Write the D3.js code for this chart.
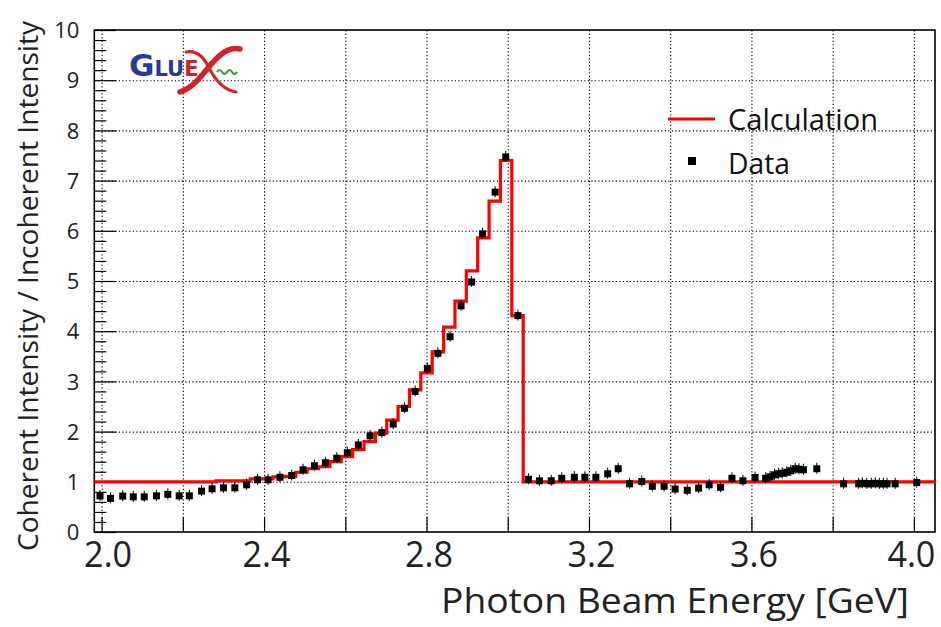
<!DOCTYPE html>
<html>
<head>
<meta charset="utf-8">
<script src="https://cdn.jsdelivr.net/npm/d3@7"></script>
<style>
  body { margin: 0; background: #fff; }
  svg { display: block; font-family: "Open Sans", "DejaVu Sans", sans-serif; }
</style>
</head>
<body>
<svg id="chart" width="941" height="627"></svg>
<script>
// ---------------- DATA ----------------
// Calculation histogram: bin edges (GeV) and ratio values per bin
const calcEdges = [1.982, 2.282, 2.310, 2.338, 2.366, 2.394, 2.422, 2.450, 2.478, 2.506,
  2.534, 2.562, 2.590, 2.618, 2.646, 2.674, 2.702, 2.730, 2.758, 2.786, 2.814, 2.842,
  2.870, 2.898, 2.926, 2.954, 2.982, 3.010, 3.038, 4.052];
const calcValues = [1.00, 1.02, 1.02, 1.02, 1.06, 1.06, 1.10, 1.11, 1.19, 1.26,
  1.30, 1.40, 1.50, 1.64, 1.80, 1.97, 2.23, 2.50, 2.83, 3.17, 3.59,
  4.08, 4.60, 5.20, 5.86, 6.59, 7.40, 4.31, 1.00];

// Measured data points
const dataEnergy = [1.996, 2.022, 2.052, 2.078, 2.105, 2.135, 2.163, 2.191, 2.216, 2.246,
  2.272, 2.300, 2.328, 2.357, 2.384, 2.410, 2.439, 2.468, 2.496, 2.524,
  2.551, 2.579, 2.605, 2.632, 2.661, 2.690, 2.718, 2.746, 2.772, 2.802,
  2.828, 2.858, 2.885, 2.911, 2.938, 2.969, 2.995, 3.025, 3.051, 3.078,
  3.107, 3.133, 3.164, 3.190, 3.217, 3.246, 3.272, 3.300, 3.330, 3.356,
  3.385, 3.412, 3.442, 3.470, 3.496, 3.524, 3.552, 3.579, 3.609, 3.635,
  3.646, 3.657, 3.667, 3.676, 3.687, 3.697, 3.708, 3.717, 3.728, 3.761,
  3.827, 3.864, 3.873, 3.884, 3.895, 3.905, 3.915, 3.925, 3.934, 3.954, 4.007];
const dataRatio = [0.72, 0.67, 0.715, 0.70, 0.70, 0.72, 0.75, 0.72, 0.72, 0.815,
  0.86, 0.88, 0.88, 0.94, 1.04, 1.04, 1.09, 1.125, 1.24, 1.32,
  1.38, 1.47, 1.58, 1.735, 1.915, 1.98, 2.15, 2.465, 2.80, 3.26,
  3.56, 3.89, 4.505, 4.98, 5.94, 6.77, 7.47, 4.31, 1.05, 1.02,
  1.02, 1.07, 1.09, 1.09, 1.09, 1.16, 1.26, 0.96, 1.006, 0.91,
  0.91, 0.855, 0.83, 0.875, 0.94, 0.89, 1.07, 1.02, 1.085, 1.07,
  1.10, 1.14, 1.16, 1.17, 1.19, 1.22, 1.26, 1.25, 1.24, 1.26,
  0.96, 0.96, 0.97, 0.96, 0.96, 0.97, 0.96, 0.96, 0.96, 0.96, 0.985];

// Axis ticks and labels
const xTickValues = [2.0, 2.2, 2.4, 2.6, 2.8, 3.0, 3.2, 3.4, 3.6, 3.8, 4.0];
const xLabelValues = [2.0, 2.4, 2.8, 3.2, 3.6, 4.0];
const xLabelTexts = ["2.0", "2.4", "2.8", "3.2", "3.6", "4.0"];
const yMajorTicks = [0, 1, 2, 3, 4, 5, 6, 7, 8, 9, 10];
const yMinorTicks = [0.2, 0.4, 0.6, 0.8, 1.2, 1.4, 1.6, 1.8, 2.2, 2.4, 2.6, 2.8,
  3.2, 3.4, 3.6, 3.8, 4.2, 4.4, 4.6, 4.8, 5.2, 5.4, 5.6, 5.8, 6.2, 6.4, 6.6, 6.8,
  7.2, 7.4, 7.6, 7.8, 8.2, 8.4, 8.6, 8.8, 9.2, 9.4, 9.6, 9.8];
const yGridValues = [1, 2, 3, 4, 5, 6, 7, 8, 9];

const xTitle = "Photon Beam Energy [GeV]";
const yTitle = "Coherent Intensity / Incoherent Intensity";
const legendLabels = ["Calculation", "Data"];

// ---------------- DRAW ----------------
const svg = d3.select("#chart");
const L = 94.3, R = 935, T = 30, B = 532;
const x = d3.scaleLinear().domain([1.982, 4.052]).range([L, R]);
const y = d3.scaleLinear().domain([0, 10]).range([B, T]);

// grid
const grid = svg.append("g").attr("class", "grid");
grid.append("g")
  .attr("transform", `translate(0,${B})`)
  .call(d3.axisBottom(x).tickValues(xTickValues).tickSize(-(B - T)).tickFormat(""))
  .call(g => g.select(".domain").remove())
  .selectAll("line").attr("stroke", "#000").attr("stroke-width", 1.1).attr("stroke-dasharray", "1.2,2.3");
grid.append("g")
  .attr("transform", `translate(${L},0)`)
  .call(d3.axisLeft(y).tickValues(yGridValues).tickSize(-(R - L)).tickFormat(""))
  .call(g => g.select(".domain").remove())
  .selectAll("line").attr("stroke", "#000").attr("stroke-width", 1.1).attr("stroke-dasharray", "1.2,2.3");

// x ticks (inward)
svg.append("g")
  .attr("transform", `translate(0,${B})`)
  .call(d3.axisBottom(x).tickValues(xTickValues).tickSize(-15).tickFormat(""))
  .call(g => g.select(".domain").remove())
  .selectAll("line").attr("stroke", "#000").attr("stroke-width", 1.2);

// x labels
const xl = svg.append("g")
  .attr("transform", `translate(0,${B})`)
  .call(d3.axisBottom(x).tickValues(xLabelValues).tickSize(0).tickPadding(0)
    .tickFormat((d, i) => xLabelTexts[i]));
xl.select(".domain").remove();
xl.selectAll("text")
  .attr("y", 35).attr("dy", 0)
  .attr("dx", (d, i) => i === 0 ? 6 : (i === xLabelValues.length - 1 ? -3 : 2))
  .attr("font-family", "Open Sans, sans-serif")
  .attr("font-size", 37).attr("fill", "#222")
  .attr("textLength", 48).attr("lengthAdjust", "spacingAndGlyphs");

// y minor ticks
svg.append("g")
  .attr("transform", `translate(${L},0)`)
  .call(d3.axisLeft(y).tickValues(yMinorTicks).tickSize(-12).tickFormat(""))
  .call(g => g.select(".domain").remove())
  .selectAll("line").attr("stroke", "#000").attr("stroke-width", 1.2);

// y major ticks + labels
const yl = svg.append("g")
  .attr("transform", `translate(${L},0)`)
  .call(d3.axisLeft(y).tickValues(yMajorTicks).tickSize(-22).tickPadding(15).tickFormat(d3.format("d")));
yl.select(".domain").remove();
yl.selectAll("line").attr("stroke", "#000").attr("stroke-width", 1.2);
yl.selectAll("text")
  .attr("font-family", "Open Sans, sans-serif")
  .attr("font-size", 22).attr("fill", "#222").attr("dy", "0.35em");

// frame
svg.append("rect")
  .attr("x", L).attr("y", T).attr("width", R - L).attr("height", B - T)
  .attr("fill", "none").attr("stroke", "#000").attr("stroke-width", 1.6);

// calculation histogram (step)
const stepPts = [];
calcValues.forEach((v, i) => {
  stepPts.push([calcEdges[i], v]);
  stepPts.push([calcEdges[i + 1], v]);
});
svg.append("path")
  .datum(stepPts)
  .attr("d", d3.line().x(d => x(d[0])).y(d => y(d[1])))
  .attr("fill", "none").attr("stroke", "#ff0000").attr("stroke-width", 3.2)
  .attr("stroke-linejoin", "miter");

// data points
const pts = svg.append("g");
const data = dataEnergy.map((e, i) => ({ e, r: dataRatio[i] }));
pts.selectAll("line.err").data(data).enter().append("line")
  .attr("x1", d => x(d.e)).attr("x2", d => x(d.e))
  .attr("y1", d => y(d.r) - 6).attr("y2", d => y(d.r) + 5)
  .attr("stroke", "#000").attr("stroke-width", 1);
pts.selectAll("rect").data(data).enter().append("rect")
  .attr("x", d => x(d.e) - 3.5).attr("y", d => y(d.r) - 3.5)
  .attr("width", 7).attr("height", 7).attr("fill", "#000");

// axis titles
svg.append("text")
  .attr("x", 909).attr("y", 613).attr("text-anchor", "end")
  .attr("font-family", "Open Sans, sans-serif").attr("font-size", 34).attr("fill", "#222")
  .attr("textLength", 468).attr("lengthAdjust", "spacingAndGlyphs")
  .text(xTitle);
svg.append("text")
  .attr("transform", "translate(38,286) rotate(-90)")
  .attr("text-anchor", "middle")
  .attr("font-family", "Open Sans, sans-serif").attr("font-size", 28).attr("fill", "#222")
  .attr("textLength", 530).attr("lengthAdjust", "spacingAndGlyphs")
  .text(yTitle);

// legend
const lg = svg.append("g");
lg.append("line").attr("x1", 668).attr("x2", 715).attr("y1", 119).attr("y2", 119)
  .attr("stroke", "#ff0000").attr("stroke-width", 3.2);
lg.append("rect").attr("x", 688).attr("y", 157).attr("width", 8).attr("height", 8).attr("fill", "#000");
lg.append("text").attr("x", 728).attr("y", 130)
  .attr("font-family", "Open Sans, sans-serif").attr("font-size", 30).attr("fill", "#111")
  .attr("textLength", 150).attr("lengthAdjust", "spacingAndGlyphs")
  .text(legendLabels[0]);
lg.append("text").attr("x", 728).attr("y", 174)
  .attr("font-family", "Open Sans, sans-serif").attr("font-size", 30).attr("fill", "#111")
  .attr("textLength", 62).attr("lengthAdjust", "spacingAndGlyphs")
  .text(legendLabels[1]);

// GlueX logo (one text for the letters, the big X drawn as strokes)
const logo = svg.append("g");
const word = logo.append("text").attr("x", 129).attr("y", 76)
  .attr("font-family", "DejaVu Sans, sans-serif").attr("font-weight", "bold");
word.append("tspan").attr("font-size", 31).attr("fill", "#2b3990").text("G");
word.append("tspan").attr("font-size", 21).attr("fill", "#2b3990").text("LU");
word.append("tspan").attr("font-size", 21).attr("fill", "#d2232a").text("E");
// X: thick rising swash and thinner falling stroke
logo.append("path")
  .attr("d", "M180,92 C195,88 205,70 215,60 C223,52 230,47 240,49")
  .attr("fill", "none").attr("stroke", "#d2232a").attr("stroke-width", 5.5).attr("stroke-linecap", "round");
logo.append("path")
  .attr("d", "M186,52 C196,50 203,56 208,66 C214,78 222,90 236,92")
  .attr("fill", "none").attr("stroke", "#d2232a").attr("stroke-width", 3).attr("stroke-linecap", "round");
logo.append("path")
  .attr("d", "M217,72 q2.5,-4 5,0 t5,0 t5,0 t5,0")
  .attr("fill", "none").attr("stroke", "#3c9a3c").attr("stroke-width", 2.2);
</script>
</body>
</html>
